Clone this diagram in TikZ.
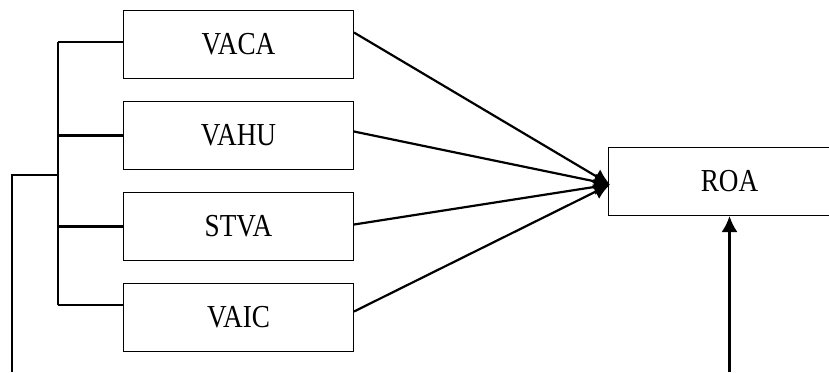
\documentclass[tikz,border=0pt]{standalone}
\usepackage{fontspec}
\setmainfont{Liberation Serif}[FakeStretch=0.85]
\usetikzlibrary{arrows.meta,positioning,calc}
\tikzset{rect/.style={
    draw,
    rectangle,
    line width=0.5pt,
    minimum width=115pt,
    minimum height=34pt,
    align=center,
    font=\fontsize{16}{18}\selectfont,
  }}
\begin{document}
\begin{tikzpicture}[x=0.5pt,y=-0.5pt,
    link/.style={line width=1.1pt},
    arr/.style={line width=1.1pt,-{Latex[length=8pt,width=8pt]}}]
  \useasboundingbox (0,0) rectangle (829,372);
  \clip (0,0) rectangle (829,372);

  % Variable boxes
  \node (vaca) [rect, anchor=north west] at (123,10) {VACA};
  \node (vahu) [rect, below=11pt of vaca] {VAHU};
  \node (stva) [rect, below=11pt of vahu] {STVA};
  \node (vaic) [rect, below=11pt of stva] {VAIC};

  % Result box
  \node (roa) [rect, anchor=north west, minimum width=121pt] at (608,147) {ROA};

  \coordinate (hub) at ($(roa.west)+(2,3)$);
  \coordinate (railtop) at (58,42);
  \coordinate (railbot) at (58,305);
  \coordinate (feed) at (58,175);
  \coordinate (feedend) at (12,372);
  \coordinate (base) at (0,372);

  % Bracket on the left
  \draw [link] (railtop) -- (railbot);
  \draw [link] (railtop) -- (railtop -| vaca.west);
  \draw [link] (vahu.west -| railtop) -- (vahu.west);
  \draw [link] (stva.west -| railtop) -- (stva.west);
  \draw [link] (railbot) -- (railbot -| vaic.west);
  \draw [link] (feed) -- (feed -| feedend) -- (feedend);

  % Arrows into ROA
  \draw [arr] ([yshift=6pt]vaca.east) -- (hub);
  \draw [arr] ([yshift=2pt]vahu.east) -- (hub);
  \draw [arr] ([yshift=1pt]stva.east) -- (hub);
  \draw [arr] ([yshift=3pt]vaic.east) -- (hub);
  \draw [arr] (roa.south |- base) -- (roa.south);

\end{tikzpicture}
\end{document}
